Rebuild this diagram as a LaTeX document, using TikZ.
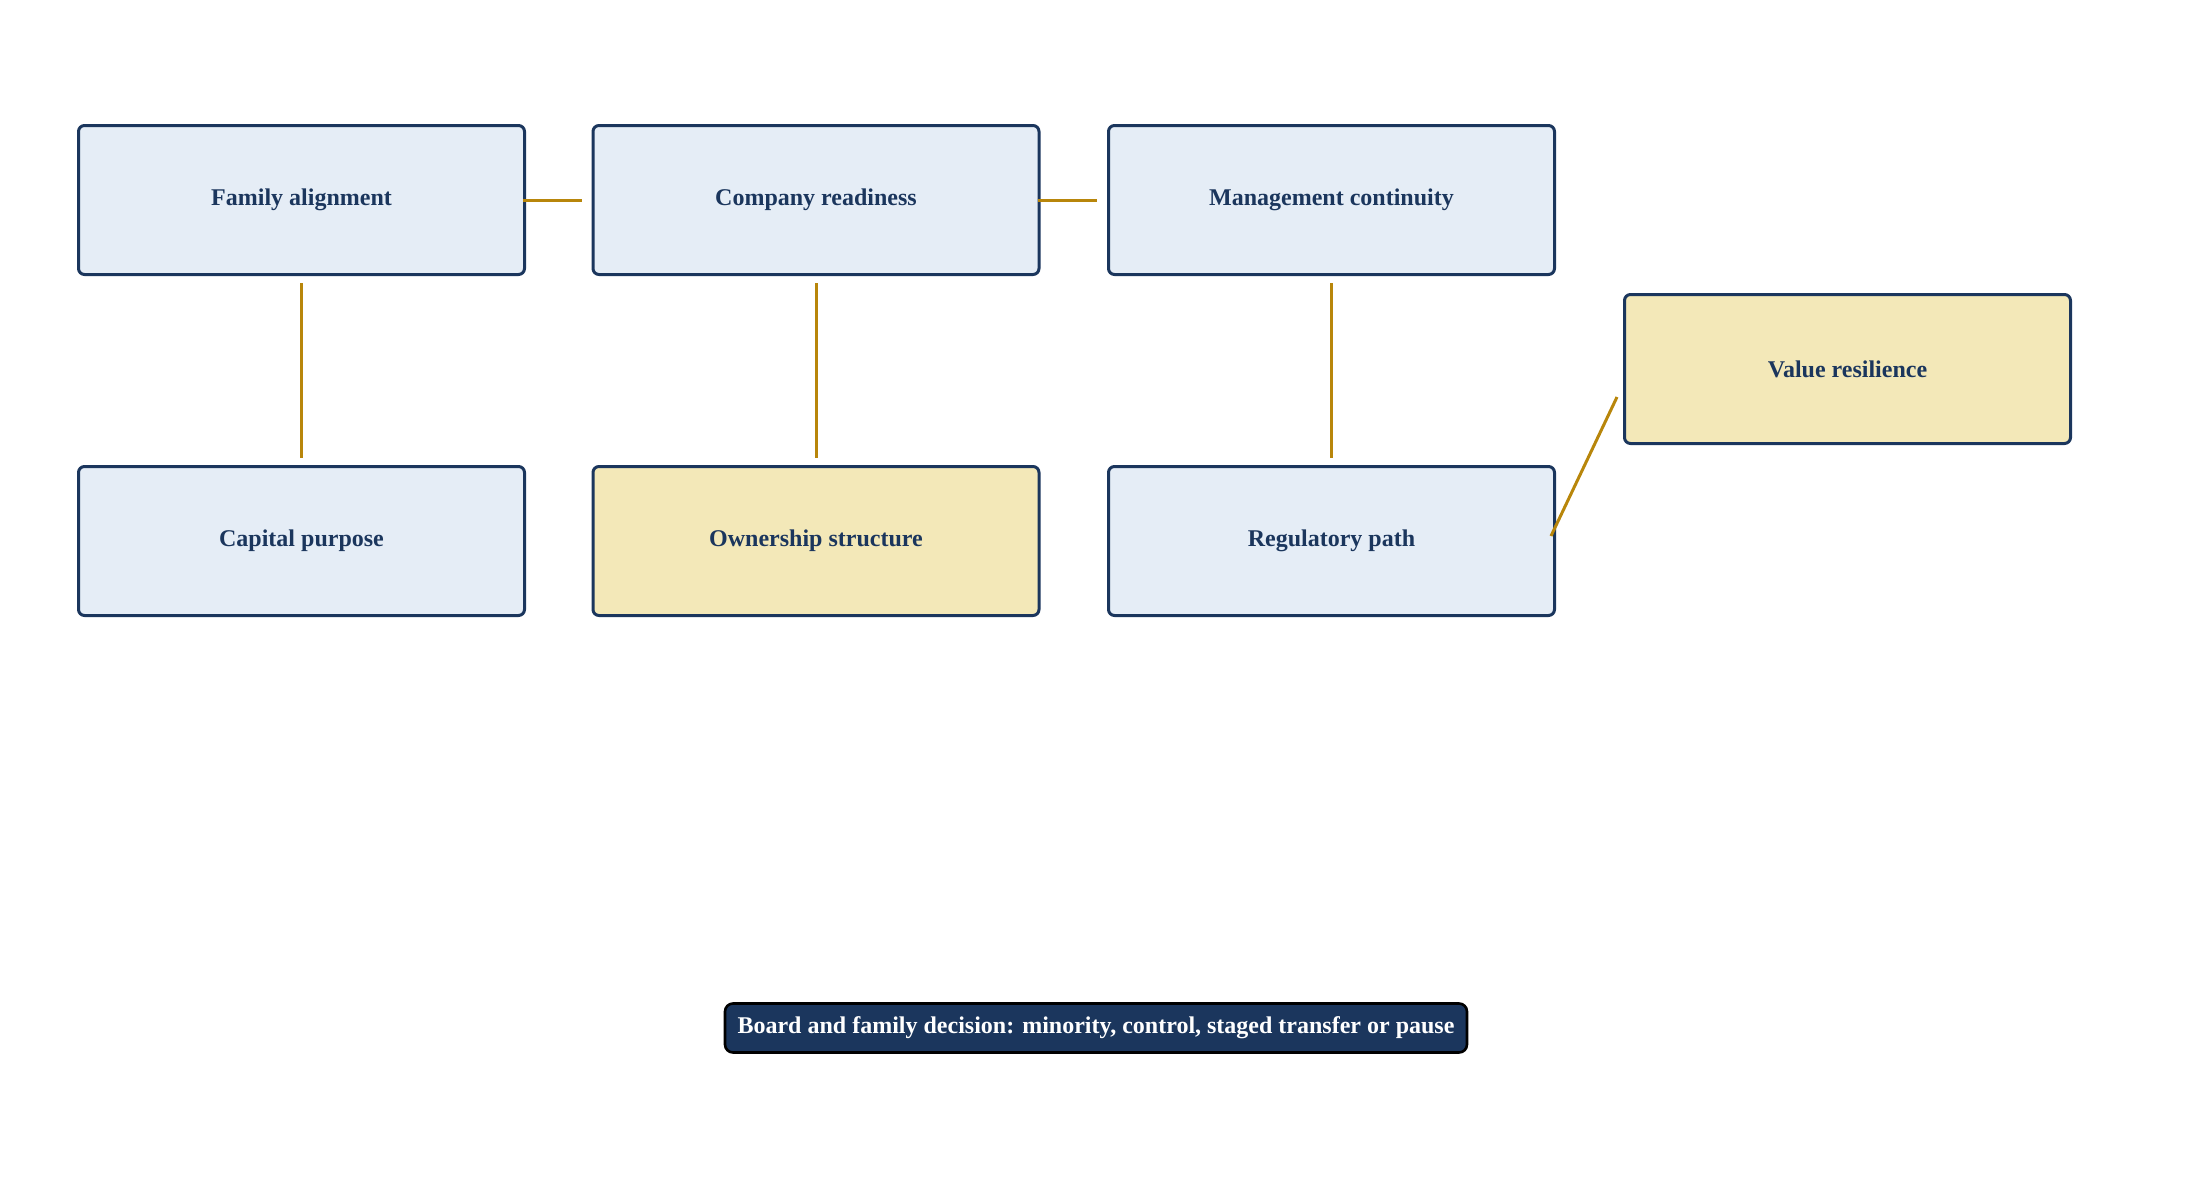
\documentclass[tikz,border=0pt]{standalone}
\usepackage{fontspec}
\setmainfont{Liberation Serif}
\definecolor{navy}{HTML}{1B365D}
\definecolor{boxblue}{HTML}{E5EDF6}
\definecolor{boxgold}{HTML}{F3E8B8}
\definecolor{linkgold}{HTML}{B8860B}
\begin{document}
\begin{tikzpicture}[x=0.5pt,y=-0.5pt,
  card/.style={draw=navy, line width=1.5pt, rounded corners=3pt, fill=boxblue,
    minimum width=223pt, minimum height=74.5pt, inner sep=0pt,
    font=\fontsize{12}{14}\selectfont\bfseries, text=navy},
  hicard/.style={card, fill=boxgold},
  decision/.style={draw=black, line width=1.3pt, rounded corners=4pt, fill=navy,
    minimum width=371pt, minimum height=24.5pt, inner sep=0pt,
    font=\fontsize{12}{14}\selectfont\bfseries, text=white},
  link/.style={draw=linkgold, line width=1.5pt}]
\useasboundingbox (0,0) rectangle (2191,1179);
\node[card]   (fa) at (301.5,200) {Family alignment};
\node[card]   (cr) at (816,200)   {Company readiness};
\node[card]   (mc) at (1331.5,200) {Management continuity};
\node[card]   (cp) at (301.5,541) {Capital purpose};
\node[hicard] (os) at (816,541)   {Ownership structure};
\node[card]   (rp) at (1331.5,541) {Regulatory path};
\node[hicard] (vr) at (1847.5,369) {Value resilience};
\node[decision] (dd) at (1096,1028) {Board and family decision: minority, control, staged transfer or pause};
\draw[link] ([xshift=-1.5pt]fa.east) -- ([xshift=-5pt]cr.west);
\draw[link] ([xshift=-1.5pt]cr.east) -- ([xshift=-5pt]mc.west);
\draw[link] ([yshift=-3.5pt]fa.south) -- ([yshift=3.5pt]cp.north);
\draw[link] ([yshift=-3.5pt]cr.south) -- ([yshift=3.5pt]os.north);
\draw[link] ([yshift=-3.5pt]mc.south) -- ([yshift=3.5pt]rp.north);
\draw[link] ([shift={(-2.5pt,2.5pt)}]rp.east) -- ([shift={(-3pt,-14pt)}]vr.west);
\end{tikzpicture}
\end{document}
